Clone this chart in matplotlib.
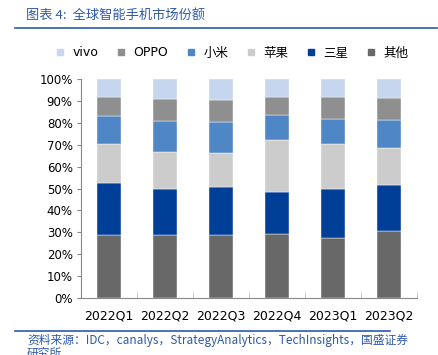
import numpy as np, matplotlib
matplotlib.use('Agg')
import matplotlib.pyplot as plt
from matplotlib.lines import Line2D
from matplotlib.ticker import PercentFormatter

plt.rcParams['font.family'] = ['DejaVu Sans', 'Noto Sans CJK SC']

quarters = ['2022Q1', '2022Q2', '2022Q3', '2022Q4', '2023Q1', '2023Q2']
others  = [28.9, 28.9, 28.7, 29.2, 27.3, 30.5]
samsung = [23.5, 20.9, 21.8, 19.3, 22.5, 21.0]
apple   = [17.8, 16.9, 15.8, 23.7, 20.4, 16.8]
xiaomi  = [12.9, 14.2, 14.1, 11.2, 11.5, 13.0]
oppo    = [8.5, 10.0, 9.9, 8.3, 10.0, 10.1]
vivo    = [8.4, 9.1, 9.7, 8.3, 8.3, 8.6]

series = [('其他', others, '#686868'), ('三星', samsung, '#003F98'),
          ('苹果', apple, '#CCCCCC'), ('小米', xiaomi, '#4F86C6'),
          ('OPPO', oppo, '#8F8F8F'), ('vivo', vivo, '#C5D6EE')]

fig = plt.figure(figsize=(4.39, 3.55), dpi=100)
ax = fig.add_axes([81/439, 1 - 298/355, 336/439, 219/355])

x = np.arange(len(quarters))
bottom = np.zeros(len(quarters))
for name, vals, col in series:
    ax.bar(x, vals, bottom=bottom, width=0.43, color=col, edgecolor='white', linewidth=0.3)
    bottom += np.array(vals)

ax.set_xlim(-0.5, len(quarters) - 0.5)
ax.set_ylim(0, 100)
ax.set_yticks(np.arange(0, 101, 10))
ax.yaxis.set_major_formatter(PercentFormatter(decimals=0))
ax.set_xticks(x)
ax.set_xticklabels(quarters, fontsize=9)
ax.set_xticks(np.arange(-0.5, len(quarters), 1), minor=True)
ax.tick_params(axis='x', which='major', length=0, pad=8)
ax.tick_params(axis='x', which='minor', direction='in', length=4, color='#BBBBBB')
ax.tick_params(axis='y', labelsize=8.5, length=3, color='#888888', pad=3)
for s in ['top', 'right']:
    ax.spines[s].set_visible(False)
for s in ['left', 'bottom']:
    ax.spines[s].set_color('#888888')
    ax.spines[s].set_linewidth(0.8)

# legend order: vivo, OPPO, 小米, 苹果, 三星, 其他
handles = [Line2D([], [], marker='s', ls='', color=c, markersize=5) for _, _, c in series[::-1]]
labels = [n for n, _, _ in series[::-1]]
fig.legend(handles, labels, loc='center', bbox_to_anchor=(228/439, 1 - 53/355), ncol=6,
           frameon=False, fontsize=9, handletextpad=0.0, columnspacing=0.8)

blue = '#2E5AA8'
fig.text(26/439, 1 - 15/355, '图表 4:  全球智能手机市场份额', color=blue, fontsize=9.5,
         va='center', ha='left', family=['Noto Sans CJK SC', 'DejaVu Sans'])
fig.add_artist(Line2D([15/439, 437/439], [1 - 28/355] * 2, color=blue, lw=1.2))
fig.add_artist(Line2D([15/439, 390/439], [1 - 331/355] * 2, color=blue, lw=1.2))
fig.text(27/439, 1 - 334/355, '资料来源：IDC，canalys，StrategyAnalytics，TechInsights，国盛证券\n研究所',
         color=blue, fontsize=8.5, va='top', ha='left', linespacing=1.0,
         family=['Noto Sans CJK SC', 'DejaVu Sans'])

fig.savefig('out.png', dpi=100)
